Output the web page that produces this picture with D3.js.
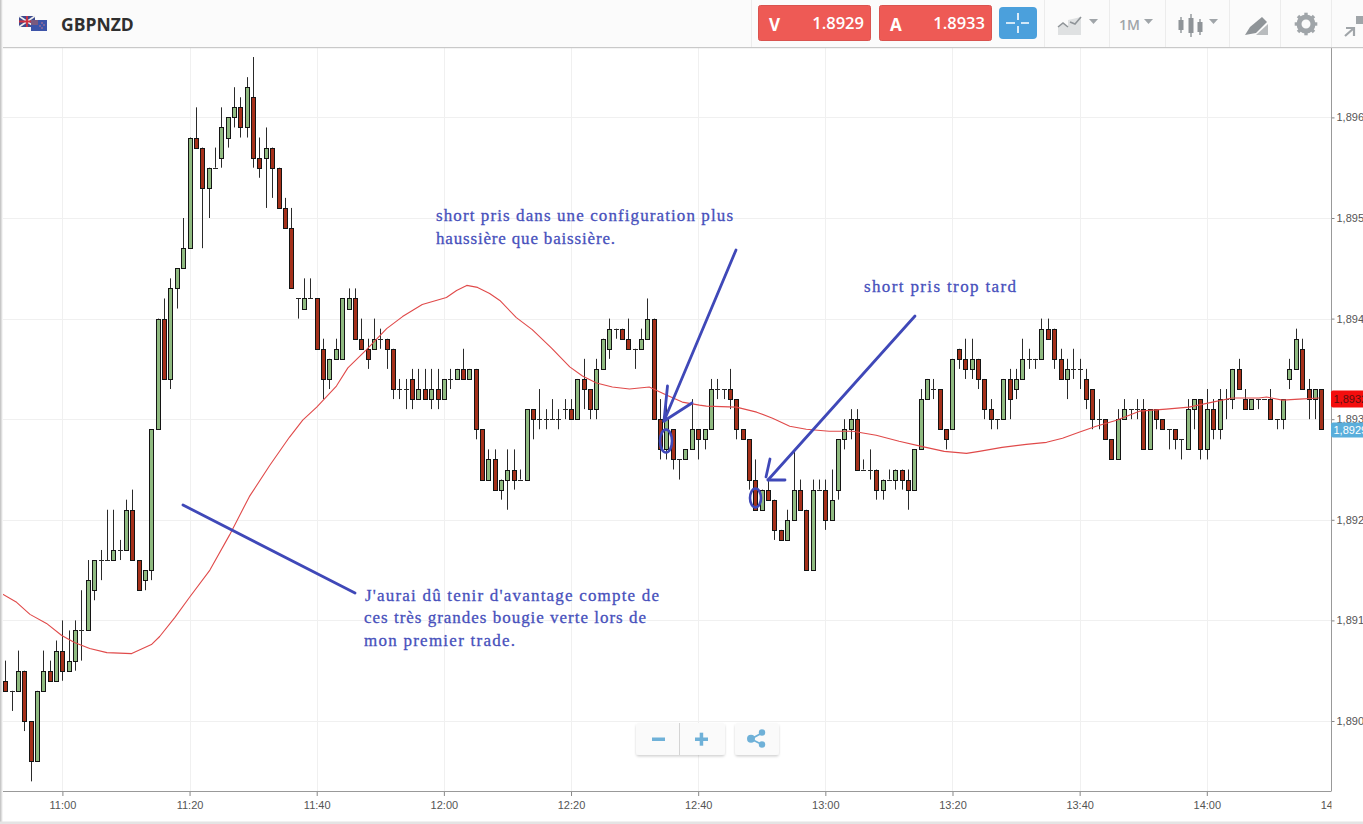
<!DOCTYPE html>
<html><head><meta charset="utf-8">
<script src="https://cdn.jsdelivr.net/npm/d3@7/dist/d3.min.js"></script>
<style>html,body{margin:0;padding:0;background:#fff;overflow:hidden}svg{display:block}</style>
</head><body><div id="chart"></div>
<script>
// Prices are 4-decimal quotes, stored as pips above 1.8900; first candle is 10:51, one per minute.
const basePrice = 1.8900, pip = 0.0001;
const openPips = [4,3,3,5,0,-4,3,5,4,7, 5,6,9,9,13,16,16,16,17,17, 21,16,14,15,29,40,34,43,45,47,
 58,57,53,55,56,58,60,61,59,62, 56,56,57,55,51,49,42,41,42,42, 37,34,36,36,41,42,38,37,37,38,
 38,37,33,33,34,32,33,32,33,32, 34,34,35,34,35,29,24,26,23,24, 25,24,24,31,30,30,30,30,31,31,
 30,34,33,31,35,37,39,39,38,37, 37,38,40,30,27,29,26,26,27,29, 28,29,33,33,33,32,29,28,24,21,
 23,22,19,18,20,23,21,15,23,23, 20,23,28,29,30,25,25,25,23,24, 24,25,24,23,27,32,33,33,29,29,
 37,36,35,36,34,31,30,30,34,33, 34,36,36,36,39,39,36,34,35,35, 34,33,30,30,28,26,30,31,31,31,
 27,31,30,29,29,28,27,31,32,27, 31,29,32,32,35,32,31,32,32,32, 30,30,34,35,37,33,32,33];
const highPips = [6,3,7,5,0,3,7,6,8,10, 9,10,13,16,16,17,21,21,18,22, 23,16,15,29,40,42,44,45,50,58,
 61,57,55,57,61,60,63,62,64,66, 58,59,57,55,52,51,42,44,44,42, 38,36,38,42,43,43,40,38,40,39,
 38,37,34,34,35,35,35,35,35,34, 35,35,37,35,35,29,27,27,24,27, 27,25,31,31,33,31,32,31,32,32,
 34,36,33,36,38,40,39,39,40,37, 39,42,40,32,32,29,26,27,32,29, 29,34,34,33,35,32,29,28,26,23,
 24,22,19,21,27,24,21,24,24,24, 25,28,30,31,31,26,27,25,24,25, 25,25,25,27,33,34,34,33,29,36,
 37,38,38,36,34,32,30,34,35,35, 38,37,36,40,40,39,37,36,37,36, 35,33,32,30,28,31,32,31,32,32,
 31,31,30,29,29,28,32,32,32,33, 32,33,33,35,36,33,32,32,32,33, 30,32,36,39,38,34,33,33];
const lowPips = [3,1,3,-1,-6,-4,3,4,4,4, 5,5,6,9,12,14,16,16,16,17, 16,13,13,14,29,34,33,41,45,47,
 57,47,50,55,55,57,59,58,58,55, 54,51,52,51,49,43,40,41,42,37, 32,33,36,36,41,38,37,35,37,37,
 35,32,32,31,31,32,32,31,31,32, 33,34,34,34,28,24,24,23,22,21, 23,24,24,28,29,29,30,29,30,30,
 30,31,30,30,35,36,38,38,37,35, 37,38,30,26,26,25,24,26,27,26, 27,29,32,32,31,28,28,23,21,21,
 22,18,18,18,20,21,15,15,23,19, 20,22,27,28,25,25,24,22,22,24, 23,23,21,23,27,32,32,29,27,29,
 35,34,34,33,30,29,29,30,30,32, 34,35,35,36,38,35,34,32,34,33, 31,29,29,28,26,26,30,30,30,27,
 27,29,29,27,27,26,27,29,26,26, 28,28,30,31,33,31,31,31,32,30, 29,29,33,35,33,30,30,29];
const closePips = [3,3,5,0,-4,3,5,4,7,5, 6,9,9,14,16,16,16,17,17,21, 16,13,15,29,40,34,43,45,47,58,
 57,53,55,55,59,60,61,59,63,56, 55,57,55,51,49,43,42,42,42,37, 34,36,37,42,42,38,37,36,38,38,
 37,33,33,33,32,33,32,33,32,34, 34,35,34,35,29,24,26,23,24,25, 24,24,31,30,30,30,30,30,31,30,
 34,33,31,35,38,39,39,38,37,37, 38,40,30,27,30,26,26,27,29,28, 29,33,33,33,32,29,28,24,21,23,
 22,19,18,20,23,21,15,23,23,20, 22,28,29,30,25,25,25,23,24,24, 25,24,23,27,32,34,33,29,28,36,
 36,35,36,34,31,30,30,34,32,34, 36,36,36,39,38,36,34,35,35,35, 32,30,30,28,26,30,31,31,31,27,
 31,30,29,29,28,28,31,32,27,31, 29,32,32,35,33,31,32,32,32,30, 30,32,35,38,33,32,33,29];

// Moving average: minutes after 10:51 and price.
const maMinutes = [-0.9,1.8,3.9,6.5,8.9,10.9,13.3,16,19.9,23,24.3,26.7,29,32.2,35.3,38.4,41.6,44.7,46.8,49,52.1,53.9,56.8,60,62.5,65.6,69.4,71,72.6,74.3,76.2,77.8,80.4,82.9,85.9,88.8,90.8,93,95.5,98.2,101.3,104,106.5,109.2,110.3,115,118.2,120.7,123.4,126,129.6,133.3,137,140.6,144.1,147.7,151.2,153.2,156.8,160.6,163.8,166.3,168.9,171.6,174.8,178.4,182.6,186.2,189.9,193,197.2,198.4,200.9,203.5,206.7];
const maValues = [1.89128,1.89118,1.89106,1.89097,1.89085,1.89078,1.89072,1.89068,1.89067,1.89076,1.89084,1.89103,1.89123,1.89150,1.89185,1.89223,1.89254,1.89282,1.89299,1.89312,1.89333,1.89351,1.89369,1.89390,1.89402,1.89414,1.89421,1.89428,1.89433,1.89431,1.89425,1.89418,1.89401,1.89389,1.89371,1.89352,1.89343,1.89336,1.89332,1.89330,1.89332,1.89324,1.89317,1.89314,1.89313,1.89312,1.89307,1.89301,1.89293,1.89290,1.89288,1.89288,1.89284,1.89278,1.89273,1.89268,1.89266,1.89268,1.89272,1.89275,1.89277,1.89281,1.89287,1.89293,1.89299,1.89308,1.89310,1.89312,1.89317,1.89321,1.89321,1.89322,1.89319,1.89320,1.89321];

const priceTicks = [1.890,1.891,1.892,1.893,1.894,1.895,1.896];
const timeTicks = ["11:00","11:20","11:40","12:00","12:20","12:40","13:00","13:20","13:40","14:00","14:20"];
const symbolName = "GBPNZD", sellLabel = "V", sellQuote = "1.8929", askLabel = "A", askQuote = "1.8933";
const lastAsk = "1,8932", lastBid = "1,8929", intervalLabel = "1M";
const noteLines = [
 ["short pris dans une configuration plus", 436, 221, 297],
 ["haussière que baissière.", 436, 244, 179],
 ["short pris trop tard", 864, 292, 152],
 ["J'aurai dû tenir d'avantage compte de", 365, 601, 294],
 ["ces très grandes bougie verte lors de", 364, 623, 282],
 ["mon premier trade.", 364, 646, 151]
];
const inkStrokes = [
 [[183,505],[355,593]],
 [[736,250],[664,421]],
 [[667.5,386],[664,421]],
 [[692,403],[664,421]],
 [[915,316],[768,480]],
 [[768,480],[785,480]],
 [[770,459],[766,477]]
];
const inkLoops = [[666,441,6,11.5],[755.5,498,5.5,9.5]];

const W = 1363, H = 824, plotTop = 48, plotBottom = 791, plotRight = 1331.5;
const svg = d3.select("#chart").append("svg").attr("width",W).attr("height",H).attr("viewBox",`0 0 ${W} ${H}`);
const minute = (h,m)=>new Date(2016,0,4,h,m);
const parseT = s=>{const [h,m]=s.split(":").map(Number);return minute(h,m)};
const firstCandle = minute(10,51);
const x = d3.scaleTime().domain([minute(11,0),minute(14,0)]).range([62.4,1206.8]);
const y = d3.scaleLinear().domain([1.890,1.896]).range([721,117.4]);
const at = n=>new Date(firstCandle.getTime()+n*60000);
const px = v=>basePrice+v*pip;

const defs = svg.append("defs");
defs.append("clipPath").attr("id","plot").append("rect").attr("x",0).attr("y",plotTop).attr("width",plotRight).attr("height",plotBottom-plotTop);
defs.append("clipPath").attr("id","xlab").append("rect").attr("x",0).attr("y",-1).attr("width",plotRight).attr("height",H-plotBottom+1);
const sh = defs.append("filter").attr("id","soft").attr("x","-10%").attr("y","-10%").attr("width","120%").attr("height","130%");
sh.append("feDropShadow").attr("dx",0).attr("dy",1.5).attr("stdDeviation",1).attr("flood-color","#000").attr("flood-opacity",.18);
const gr = defs.append("linearGradient").attr("id","edge");
gr.append("stop").attr("offset",0).attr("stop-color","#bdbdbd");
gr.append("stop").attr("offset",1).attr("stop-color","#fff");

svg.append("rect").attr("width",W).attr("height",H).attr("fill","#fff");

// grid
const plot = svg.append("g").attr("clip-path","url(#plot)");
plot.append("g").selectAll("line").data(timeTicks.map(parseT)).join("line")
 .attr("x1",d=>Math.round(x(d))+.5).attr("x2",d=>Math.round(x(d))+.5).attr("y1",plotTop).attr("y2",plotBottom).attr("stroke","#f0f0f0");
plot.append("g").selectAll("line").data(priceTicks).join("line")
 .attr("x1",0).attr("x2",plotRight).attr("y1",d=>Math.round(y(d))+.5).attr("y2",d=>Math.round(y(d))+.5).attr("stroke","#f0f0f0");

// candles
const candles = openPips.map((o,i)=>({t:at(i),o:px(o),h:px(highPips[i]),l:px(lowPips[i]),c:px(closePips[i])}));
const cx = d=>Math.round(x(d.t));
const gC = plot.append("g");
gC.selectAll("line.wick").data(candles).join("line").attr("class","wick")
 .attr("x1",d=>cx(d)+.5).attr("x2",d=>cx(d)+.5).attr("y1",d=>y(d.h)).attr("y2",d=>y(d.l))
 .attr("stroke","#2a2a2a").attr("stroke-width",1);
gC.selectAll("line.doji").data(candles.filter(d=>d.o===d.c)).join("line").attr("class","doji")
 .attr("x1",d=>cx(d)-2).attr("x2",d=>cx(d)+3).attr("y1",d=>Math.round(y(d.o))+.5).attr("y2",d=>Math.round(y(d.o))+.5)
 .attr("stroke","#2a2a2a").attr("stroke-width",1);
gC.selectAll("rect").data(candles.filter(d=>d.o!==d.c)).join("rect")
 .attr("x",d=>cx(d)-1.5).attr("width",4)
 .attr("y",d=>Math.round(y(Math.max(d.o,d.c)))+.5)
 .attr("height",d=>Math.max(1,Math.round(y(Math.min(d.o,d.c)))-Math.round(y(Math.max(d.o,d.c)))))
 .attr("fill",d=>d.c>d.o?"#8fba80":"#a5301a").attr("stroke","#141414").attr("stroke-width",1);

// moving average
const maLine = d3.line().x((d,i)=>x(at(maMinutes[i]))).y(d=>y(d));
plot.append("path").datum(maValues).attr("d",maLine).attr("fill","none").attr("stroke","#e04a4a").attr("stroke-width",1.1).attr("stroke-linejoin","round");

// axes
const gx = svg.append("g").attr("transform",`translate(0,${plotBottom})`).attr("clip-path","url(#xlab)")
 .call(d3.axisBottom(x).tickValues(timeTicks.map(parseT)).tickFormat(d3.timeFormat("%H:%M")).tickSizeOuter(0).tickSize(5).tickPadding(5));
gx.select(".domain").remove();
gx.selectAll("line").attr("stroke","#888");
gx.selectAll("text").attr("font-family","'Liberation Sans',Arial,sans-serif").attr("font-size",11).attr("fill","#555");
svg.append("line").attr("x1",0).attr("x2",plotRight).attr("y1",plotBottom+.5).attr("y2",plotBottom+.5).attr("stroke","#999");

const gy = svg.append("g").attr("transform",`translate(${plotRight},0)`)
 .call(d3.axisRight(y).tickValues(priceTicks).tickFormat(d=>d3.format(".3f")(d).replace(".",",")).tickSize(3).tickPadding(2).tickSizeOuter(0));
gy.select(".domain").remove();
gy.selectAll("line").attr("stroke","#888");
gy.selectAll("text").attr("font-family","'Liberation Sans',Arial,sans-serif").attr("font-size",11).attr("fill","#555");
svg.append("line").attr("x1",plotRight).attr("x2",plotRight).attr("y1",plotTop).attr("y2",plotBottom).attr("stroke","#999");

// last-price tags
[[lastAsk,"#f40d0d","#5a1010",390.5,17],[lastBid,"#5aaedb","#fff",422.5,15]].forEach(([t,f,c,ty,th])=>{
 svg.append("rect").attr("x",1331).attr("y",ty).attr("width",36).attr("height",th).attr("rx",2).attr("fill",f);
 svg.append("text").attr("x",1333.5).attr("y",ty+th/2+4).text(t).attr("font-family","'Liberation Sans',Arial,sans-serif").attr("font-size",11).attr("fill",c);
});

// hand annotations
const ink = "#3f48b8";
const inkG = svg.append("g").attr("stroke",ink).attr("fill","none").attr("stroke-linecap","round");
inkG.selectAll("path").data(inkStrokes).join("path").attr("d",d3.line()).attr("stroke-width",2.8);
inkG.selectAll("ellipse").data(inkLoops).join("ellipse").attr("cx",d=>d[0]).attr("cy",d=>d[1]).attr("rx",d=>d[2]).attr("ry",d=>d[3]).attr("stroke-width",2.6);
svg.append("g").selectAll("text").data(noteLines).join("text")
 .attr("x",d=>d[1]).attr("y",d=>d[2]).attr("textLength",d=>d[3]).attr("lengthAdjust","spacing")
 .text(d=>d[0]).attr("font-family","'Liberation Serif',serif").attr("font-size",17).attr("fill","#4750bc").attr("stroke","#4750bc").attr("stroke-width",.3);

// zoom / share buttons
const btn = svg.append("g");
btn.append("rect").attr("x",636).attr("y",723).attr("width",89).attr("height",32).attr("rx",3).attr("fill","#fafafa").attr("filter","url(#soft)");
btn.append("line").attr("x1",679.5).attr("x2",679.5).attr("y1",723).attr("y2",755).attr("stroke","#d4d4d4");
btn.append("rect").attr("x",735).attr("y",723).attr("width",44).attr("height",32).attr("rx",3).attr("fill","#fafafa").attr("filter","url(#soft)");
const bc = "#6fb1d8";
btn.append("rect").attr("x",652).attr("y",737.5).attr("width",13).attr("height",3.5).attr("fill",bc);
btn.append("rect").attr("x",695).attr("y",737.5).attr("width",13).attr("height",3.5).attr("fill",bc);
btn.append("rect").attr("x",699.7).attr("y",732.7).attr("width",3.5).attr("height",13).attr("fill",bc);
btn.append("path").attr("d","M762 733L751 739L762 744.5").attr("fill","none").attr("stroke",bc).attr("stroke-width",1.8);
[[762,732.5,3.2],[751,738.8,4],[762,744.5,3.2]].forEach(c=>btn.append("circle").attr("cx",c[0]).attr("cy",c[1]).attr("r",c[2]).attr("fill",bc));

// header
const hd = svg.append("g");
hd.append("rect").attr("width",W).attr("height",47).attr("fill","#fbfbfb");
hd.append("rect").attr("y",47).attr("width",W).attr("height",1.2).attr("fill","#c9c9c9");
[751,1044,1109,1165,1229,1280,1331].forEach(v=>hd.append("line").attr("x1",v+.5).attr("x2",v+.5).attr("y1",0).attr("y2",47).attr("stroke","#ececec"));
// flags
hd.append("rect").attr("x",19).attr("y",16).attr("width",16).attr("height",11).attr("fill","#3d4a8f");
hd.append("path").attr("d","M19 16L35 27M35 16L19 27").attr("stroke","#eee").attr("stroke-width",1.6);
hd.append("path").attr("d","M27 16V27M19 21.5H35").attr("stroke","#d03040").attr("stroke-width",1.8);
hd.append("rect").attr("x",31).attr("y",20).attr("width",16).attr("height",11).attr("fill","#3d54a8");
hd.append("rect").attr("x",31).attr("y",20).attr("width",7).attr("height",5).attr("fill","#7a5a7f");
[[42,23],[44,25],[40,26],[42,28]].forEach(s=>hd.append("circle").attr("cx",s[0]).attr("cy",s[1]).attr("r",.7).attr("fill","#e88"));
hd.append("text").attr("x",61).attr("y",31).text(symbolName).attr("font-family","'Open Sans',sans-serif").attr("font-weight",700).attr("font-size",17.5).attr("fill","#2f2f2f");
// quote buttons
[[758,sellLabel,sellQuote],[879,askLabel,askQuote]].forEach(([bx,l,q])=>{
 hd.append("rect").attr("x",bx+.5).attr("y",5.5).attr("width",112).attr("height",35).attr("rx",2).attr("fill","#ee5a55").attr("stroke","#d9534f");
 hd.append("text").attr("x",bx+11).attr("y",31).text(l).attr("font-family","'Open Sans',sans-serif").attr("font-weight",700).attr("font-size",17).attr("fill","#fff");
 hd.append("text").attr("x",bx+106).attr("y",29).attr("text-anchor","end").text(q).attr("font-family","'Open Sans',sans-serif").attr("font-weight",600).attr("font-size",16.5).attr("fill","#fff");
});
hd.append("rect").attr("x",999).attr("y",7).attr("width",38).attr("height",32).attr("rx",4).attr("fill","#4ba0dc");
hd.append("path").attr("d","M1006 23H1015M1021 23H1029M1018 13V20M1018 26V33").attr("stroke","#fff").attr("stroke-width",1.6);
// toolbar icons
const ic = "#a0a5a9", arrow = (ax)=>hd.append("path").attr("d",`M${ax} 19h9l-4.5 5z`).attr("fill",ic);
hd.append("path").attr("d","M1058 35V27L1063 23L1068 27V20L1081 17V35Z").attr("fill","#dfe1e2");
hd.append("path").attr("d","M1058 27L1063 23L1068 27M1070 22L1075 24L1081 17").attr("fill","none").attr("stroke","#8f9498").attr("stroke-width",1.6);
arrow(1089);
hd.append("text").attr("x",1119).attr("y",30).text(intervalLabel).attr("font-family","'Open Sans',sans-serif").attr("font-weight",600).attr("font-size",14).attr("fill",ic);
arrow(1144);
[[1181,17,33,20,30],[1191,14,37,18,33],[1200,19,35,22,32]].forEach(([a,t,b,bt,bb])=>{
 hd.append("line").attr("x1",a).attr("x2",a).attr("y1",t).attr("y2",b).attr("stroke","#8f9498").attr("stroke-width",1.4);
 hd.append("rect").attr("x",a-2.5).attr("y",bt).attr("width",5).attr("height",bb-bt).attr("fill","#8f9498");
});
arrow(1209);
hd.append("path").attr("d","M1245 35L1250 27L1262 17L1267 22L1256 33Z").attr("fill","#8f9498");
hd.append("path").attr("d","M1256 35L1268 24V35Z").attr("fill","#b9bcbe");
hd.append("circle").attr("cx",1306).attr("cy",24).attr("r",7).attr("fill","none").attr("stroke",ic).attr("stroke-width",5);
d3.range(8).forEach(k=>{const a=k*Math.PI/4;hd.append("line")
 .attr("x1",1306+8*Math.cos(a)).attr("y1",24+8*Math.sin(a)).attr("x2",1306+11.3*Math.cos(a)).attr("y2",24+11.3*Math.sin(a))
 .attr("stroke",ic).attr("stroke-width",3.4);});
hd.append("path").attr("d","M1345 36L1354 28M1346 28H1354V36").attr("fill","none").attr("stroke",ic).attr("stroke-width",2.2);
hd.append("path").attr("d","M1356 24V16L1363 16V24Z").attr("fill",ic);

// window edges
svg.append("rect").attr("x",0).attr("y",0).attr("width",3).attr("height",H).attr("fill","url(#edge)");
svg.append("rect").attr("x",0).attr("y",821.5).attr("width",W).attr("height",2.5).attr("fill","#e4e4e4");
</script></body></html>
